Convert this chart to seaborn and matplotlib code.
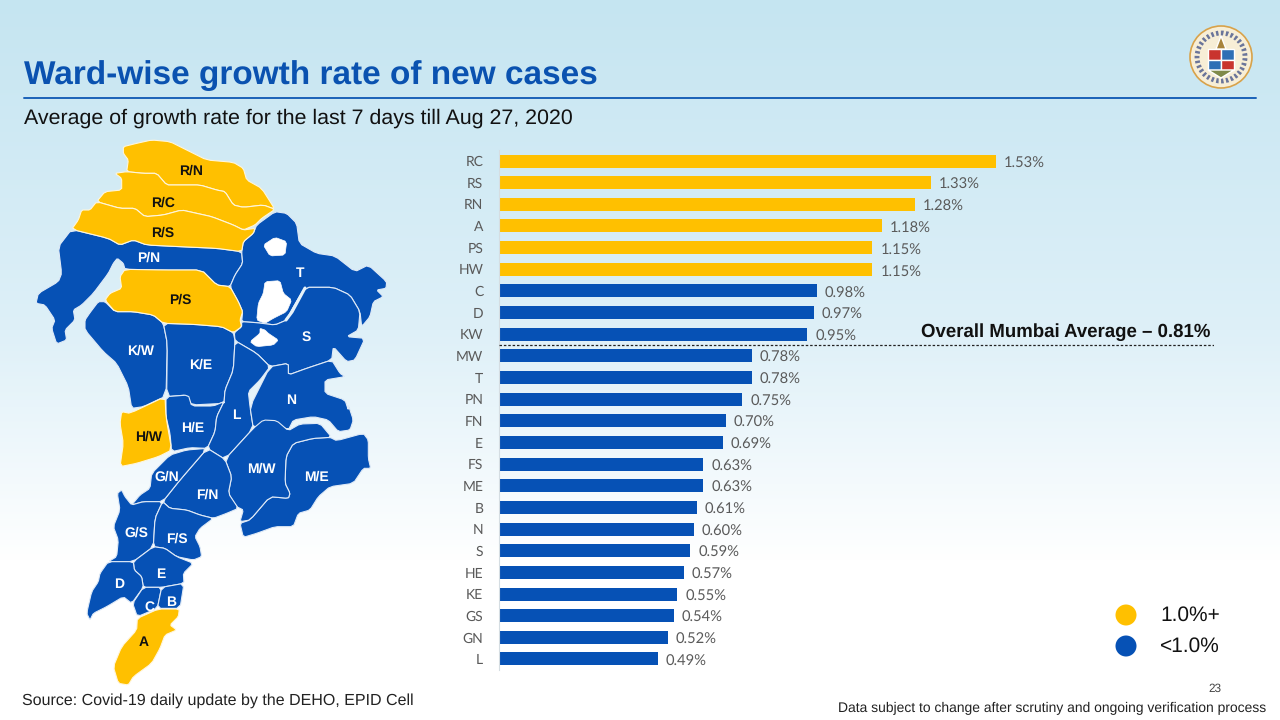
import numpy as np
import pandas as pd
import seaborn as sns
import matplotlib.pyplot as plt
from matplotlib.patches import Polygon, Circle, Rectangle

# chart values
wards = ["RC", "RS", "RN", "A", "PS", "HW", "C", "D", "KW", "MW", "T", "PN", "FN", "E",
         "FS", "ME", "B", "N", "S", "HE", "KE", "GS", "GN", "L"]
rates = [1.53, 1.33, 1.28, 1.18, 1.15, 1.15, 0.98, 0.97, 0.95, 0.78, 0.78, 0.75, 0.70, 0.69,
         0.63, 0.63, 0.61, 0.60, 0.59, 0.57, 0.55, 0.54, 0.52, 0.49]
bands = ["<1.0%" if r < 1 else "1.0%+" for r in rates]
average_position = 8.5

BLUE = "#0651b5"
YELLOW = "#ffc000"
palette = {"1.0%+": YELLOW, "<1.0%": BLUE}


def z1(pts):
    return [(30 + x / 3, 130 + y / 3) for x, y in pts]


def z2(pts):
    return [(80 + x / 3, 400 + y / 3) for x, y in pts]


def soften(pts, rounds=1):
    # corner cutting so the traced outlines look less angular
    p = np.array(pts, dtype=float)
    for _ in range(rounds):
        q = np.roll(p, -1, axis=0)
        p = np.column_stack([0.86 * p + 0.14 * q, 0.14 * p + 0.86 * q]).reshape(-1, 2)
    return p


map_blue = {
    "P/N": z1([(125, 298), (235, 325), (270, 345), (310, 330), (350, 345), (450, 350), (560, 355), (635, 365),
               (638, 400), (615, 435), (600, 470), (560, 465), (515, 420), (400, 420), (285, 418), (280, 400),
               (262, 385), (250, 400), (235, 430), (190, 490), (155, 525), (130, 540), (135, 570), (105, 600),
               (110, 630), (80, 642), (65, 595), (75, 570), (45, 525), (18, 520), (25, 490), (85, 455), (95, 430),
               (85, 350)]),
    "T": z1([(735, 245), (770, 250), (800, 280), (808, 340), (860, 370), (915, 378), (975, 425), (1015, 405),
             (1070, 455), (1068, 475), (1040, 480), (1060, 500), (1030, 515), (1020, 560), (995, 590), (990, 545),
             (960, 495), (910, 472), (825, 472), (785, 540), (770, 570), (735, 585), (680, 578), (635, 575),
             (638, 545), (625, 515), (600, 470), (615, 435), (638, 400), (635, 365), (640, 335), (670, 310),
             (680, 285)]),
    "S": z1([(635, 575), (680, 578), (735, 585), (770, 570), (785, 540), (825, 472), (910, 472), (960, 495),
             (990, 545), (985, 600), (950, 620), (1005, 625), (975, 690), (950, 695), (910, 650), (905, 690),
             (830, 715), (775, 735), (775, 700), (720, 710), (680, 670), (615, 632), (613, 608), (635, 590)]),
    "K/W": z1([(165, 570), (180, 548), (205, 515), (225, 515), (255, 545), (310, 545), (370, 555), (400, 580),
               (412, 640), (408, 798), (340, 830), (305, 835), (295, 770), (260, 700), (220, 665), (165, 600)]),
    "K/E": z1([(400, 580), (490, 583), (575, 590), (610, 608), (615, 632), (610, 720), (585, 780), (582, 820),
               (485, 825), (470, 795), (410, 800), (412, 640)]),
    "H/E": z2([(258, -10), (325, -15), (335, 18), (400, 18), (432, 5), (410, 50), (405, 95), (382, 145),
               (330, 143), (275, 155), (270, 100), (258, 50)]),
    "L": z1([(615, 632), (680, 670), (720, 710), (690, 750), (655, 785), (660, 830)])
         + z2([(520, 85), (435, 178), (382, 145), (405, 95), (410, 50), (432, 5)])
         + z1([(582, 820), (585, 780), (610, 720)]),
    "N": z1([(720, 710), (775, 700), (775, 735), (830, 715), (905, 690), (930, 730), (945, 740), (885, 750),
             (885, 790), (945, 810), (955, 840)])
         + z2([(805, 15), (820, 60), (810, 90), (775, 95), (745, 60), (700, 50), (640, 60), (625, 90), (570, 60),
               (520, 85), (510, 20)]),
    "M/E": z2([(640, 130), (700, 115), (750, 112), (770, 122), (850, 100), (865, 120), (865, 175), (872, 205),
               (850, 205), (820, 250), (750, 260), (715, 290), (690, 330), (655, 340), (640, 380), (585, 380),
               (530, 400), (490, 412), (480, 370), (510, 360), (570, 290), (625, 295), (630, 280), (615, 250),
               (618, 170)]),
    "M/W": z2([(435, 178), (520, 85), (550, 60), (590, 62), (625, 92), (660, 72), (720, 70), (755, 112), (700, 115),
               (640, 130), (618, 170), (615, 250), (630, 280), (625, 295), (570, 290), (510, 360), (480, 365),
               (490, 330), (470, 320), (445, 280), (455, 230)]),
    "F/N": z2([(382, 145), (435, 178), (455, 230), (445, 280), (475, 325), (440, 340), (400, 355), (360, 345),
               (320, 330), (270, 325), (248, 305), (300, 240)]),
    "G/N": z2([(382, 145), (300, 240), (248, 305), (190, 305), (155, 315), (180, 285), (210, 265), (215, 220),
               (270, 165), (320, 150)]),
    "G/S": z2([(155, 315), (190, 305), (248, 305), (225, 355), (220, 440), (160, 485), (85, 485), (110, 470),
               (115, 420), (100, 380), (120, 330), (112, 280), (125, 270), (135, 290)]),
    "F/S": z2([(248, 305), (270, 325), (320, 330), (360, 345), (400, 355), (360, 385), (345, 410), (360, 440),
               (365, 470), (340, 480), (290, 470), (255, 445), (220, 440), (225, 355)]),
    "E": z2([(220, 440), (255, 445), (290, 470), (340, 490), (310, 520), (312, 550), (245, 562), (190, 562),
             (185, 530), (163, 510), (160, 485)]),
    "D": z2([(85, 485), (160, 485), (163, 510), (185, 530), (190, 562), (155, 610), (130, 590), (80, 620), (40, 640),
             (30, 660), (20, 640), (35, 575), (55, 545), (60, 520)]),
    "C": z2([(190, 562), (245, 562), (232, 625), (172, 650), (158, 610)]),
    "B": z2([(245, 562), (312, 550), (300, 625), (232, 625)]),
}
map_yellow = {
    "R/N": z1([(280, 50), (320, 40), (365, 30), (420, 35), (470, 60), (530, 90), (610, 97), (640, 115), (650, 150),
               (695, 175), (735, 238), (700, 225), (640, 232), (610, 225), (585, 185), (560, 180), (510, 165),
               (450, 165), (410, 165), (380, 130), (340, 130), (290, 125), (295, 90), (280, 70)]),
    "R/C": z1([(255, 130), (290, 125), (340, 130), (380, 130), (410, 165), (450, 165), (510, 165), (560, 180),
               (585, 185), (610, 225), (640, 232), (700, 225), (735, 238), (695, 265), (675, 285), (640, 300),
               (610, 285), (545, 260), (500, 250), (455, 240), (400, 255), (345, 260), (315, 235), (270, 235),
               (200, 215), (225, 185), (275, 180), (275, 145)]),
    "R/S": z1([(200, 215), (270, 235), (315, 235), (345, 260), (400, 255), (455, 240), (500, 250), (545, 260),
               (610, 285), (640, 300), (675, 295), (670, 310), (640, 335), (635, 365), (560, 355), (450, 350),
               (350, 345), (310, 330), (270, 345), (235, 325), (125, 298), (145, 270), (155, 240), (180, 240)]),
    "P/S": z1([(285, 418), (400, 420), (515, 420), (560, 465), (600, 470), (625, 515), (638, 545), (630, 570),
               (635, 590), (610, 608), (575, 590), (490, 583), (400, 580), (370, 555), (310, 545), (255, 545),
               (225, 510), (240, 490), (275, 475), (270, 440)]),
    "H/W": z2([(125, 35), (150, 40), (255, -10), (258, 50), (275, 150), (235, 170), (170, 190), (120, 200),
               (130, 130), (120, 70)]),
    "A": z2([(172, 655), (235, 627), (298, 627), (295, 650), (270, 675), (290, 690), (255, 705), (240, 745),
             (215, 790), (160, 830), (145, 855), (115, 850), (100, 800), (125, 740), (170, 690)]),
}
map_holes = [
    z1([(700, 345), (735, 322), (770, 335), (765, 375), (720, 378)]),
    z1([(705, 455), (750, 452), (760, 490), (785, 510), (770, 545), (730, 565), (705, 580), (680, 570), (685, 520),
        (700, 490)]),
    z1([(690, 595), (705, 600), (715, 610), (745, 630), (730, 645), (680, 650), (660, 635), (690, 610)]),
]
map_labels = {
    "R/N": (191, 170), "R/C": (163, 202), "R/S": (163, 232), "P/N": (149, 257), "P/S": (180, 299), "T": (300, 272),
    "K/W": (141, 350), "K/E": (201, 364), "S": (306, 336), "N": (291, 399), "L": (236, 414), "H/E": (193, 427),
    "H/W": (149, 436), "G/N": (167, 476), "M/W": (261, 468), "M/E": (316, 476), "F/N": (207, 494), "G/S": (136, 532),
    "F/S": (177, 538), "E": (161, 573), "D": (119, 583), "C": (149, 606), "B": (171, 601), "A": (144, 641),
}

sns.set_theme(style="white")
plt.rcParams["font.family"] = ["Liberation Sans", "DejaVu Sans"]
plt.rcParams["text.hinting"] = "no_hinting"
plt.rcParams["text.hinting_factor"] = 8

fig = plt.figure(figsize=(12.8, 7.2), dpi=100)

# full slide canvas in pixel coordinates
canvas = fig.add_axes([0, 0, 1, 1])
canvas.set_xlim(0, 1280)
canvas.set_ylim(720, 0)
canvas.axis("off")

stops_y = [0, 330, 560, 720]
stops_rgb = np.array([[197, 229, 241], [222, 240, 248], [255, 255, 255], [255, 255, 255]]) / 255
rows = np.arange(720)
grad = np.stack([np.interp(rows, stops_y, stops_rgb[:, i]) for i in range(3)], axis=1)[:, None, :]
canvas.imshow(grad, extent=(0, 1280, 720, 0), aspect="auto", zorder=0)

canvas.text(24, 75.5, "Ward-wise growth rate of new cases", fontsize=24, fontweight="bold", color="#0a52b0", va="center")
canvas.plot([24, 1256], [98, 98], color="#1a62b8", lw=1.4, zorder=2)
canvas.text(24, 118.5, "Average of growth rate for the last 7 days till Aug 27, 2020", fontsize=15.36, color="#111111", va="center")

# map
for pts in map_blue.values():
    canvas.add_patch(Polygon(soften(pts), closed=True, fc=BLUE, ec="#dfeaf7", lw=0.8, zorder=3))
for pts in map_yellow.values():
    canvas.add_patch(Polygon(soften(pts), closed=True, fc=YELLOW, ec="#fff6dc", lw=0.8, zorder=4))
for pts in map_holes:
    canvas.add_patch(Polygon(soften(pts), closed=True, fc="white", ec="white", lw=0.5, zorder=5))
canvas.plot([305, 292, 286], [288, 312, 320], color="#e6f2f9", lw=2.2, zorder=5)
for name, (x, y) in map_labels.items():
    canvas.text(x, y + 1.5, name, fontsize=10, fontweight="bold", ha="center", va="center", zorder=6,
                color="#111111" if name in map_yellow else "white")

# logo, only roughly
lx, ly = 1221, 57
canvas.add_patch(Circle((lx, ly), 31, fc="#f7eed6", ec="#d8a24a", lw=1.2, zorder=3))
canvas.add_patch(Circle((lx, ly), 24, fc="none", ec="#3b4c86", lw=3.5, ls=(0, (0.5, 0.5)), alpha=0.75, zorder=3))
canvas.add_patch(Circle((lx, ly + 1), 19, fc="#f7eed6", ec="none", zorder=4))
canvas.add_patch(Rectangle((lx - 13, ly - 8), 13, 11, fc="#c9342e", zorder=5))
canvas.add_patch(Rectangle((lx, ly - 8), 13, 11, fc="#2e6fb5", zorder=5))
canvas.add_patch(Rectangle((lx - 13, ly + 3), 13, 10, fc="#2e6fb5", zorder=5))
canvas.add_patch(Rectangle((lx, ly + 3), 13, 10, fc="#c9342e", zorder=5))
canvas.add_patch(Polygon([(lx - 5, ly - 8), (lx, ly - 21), (lx + 5, ly - 8)], fc="#a8843c", zorder=5))
canvas.add_patch(Polygon([(lx - 13, ly + 13), (lx + 13, ly + 13), (lx, ly + 21)], fc="#7f8a4a", zorder=5))

# legend and footers
canvas.add_patch(Circle((1126, 615), 10.5, fc=YELLOW, ec="none", zorder=3))
canvas.add_patch(Circle((1126, 646), 10.5, fc=BLUE, ec="none", zorder=3))
canvas.text(1160, 615.5, "1.0%+", fontsize=15, color="#111111", va="center")
canvas.text(1160, 646.5, "<1.0%", fontsize=15, color="#111111", va="center")
canvas.text(921, 332.5, "Overall Mumbai Average – 0.81%", fontsize=13.44, fontweight="bold", color="#111111", va="center")
canvas.text(1215, 689, "23", fontsize=8.5, color="#444444", ha="center", va="center")
canvas.text(22, 701, "Source: Covid-19 daily update by the DEHO, EPID Cell", fontsize=11.5, color="#222222", va="center")
canvas.text(1266, 708.5, "Data subject to change after scrutiny and ongoing verification process", fontsize=10,
            color="#222222", ha="right", va="center")

# bars: axes box runs from x=498.5 to 1214 px, y=150.2 to 669.8 px
ax = fig.add_axes([498.5 / 1280, 1 - 669.8 / 720, (1214 - 498.5) / 1280, (669.8 - 150.2) / 720])
ax.patch.set_alpha(0)
df = pd.DataFrame({"ward": wards, "rate": rates, "band": bands})
sns.barplot(data=df, y="ward", x="rate", hue="band", palette=palette, dodge=False, width=0.6, legend=False,
            saturation=1, linewidth=0, ax=ax)
ax.set_xlim(0, 2.2015)
ax.set_ylim(len(wards) - 0.5, -0.5)
ax.set_xlabel("")
ax.set_ylabel("")
ax.set_xticks([])
ax.tick_params(axis="y", length=0, pad=11, labelsize=10, labelcolor="#5a5a5a")
for lab in ax.get_yticklabels():
    lab.set_fontfamily(["Lato", "DejaVu Sans"])
sns.despine(ax=ax, top=True, right=True, bottom=True)
ax.spines["left"].set_color("#d5dde2")
ax.spines["left"].set_linewidth(0.8)
for bars in ax.containers:
    labels = ax.bar_label(bars, fmt="%.2f%%", padding=5.8, fontsize=10.6, color="#5a5a5a")
    for t in labels:
        t.set_fontfamily(["Lato", "DejaVu Sans"])
        t.xyann = (t.xyann[0], -1.6)
ax.axhline(average_position, color="#222222", lw=0.9, ls=(0, (2, 1.5)), zorder=4)

fig.savefig("out.png", dpi=100)
